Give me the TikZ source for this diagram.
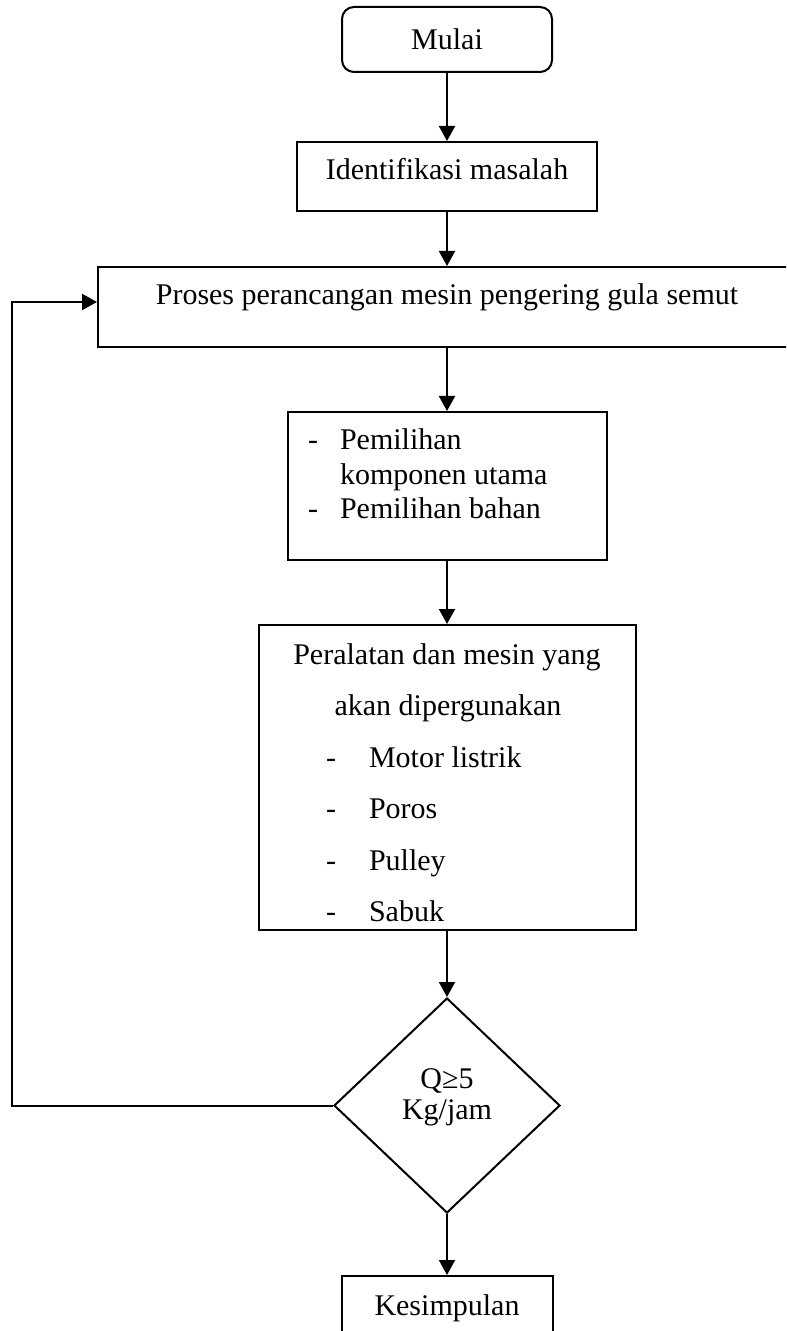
\documentclass[tikz,border=0pt]{standalone}
\usepackage{fontspec}
\setmainfont{Liberation Serif}
\usetikzlibrary{arrows.meta,shapes.geometric}
\begin{document}
\begin{tikzpicture}[x=0.5pt,y=-0.5pt, line width=1pt,
  box/.style={draw, rectangle, inner sep=0pt, font=\fontsize{15}{18}\selectfont, text depth=7.5pt},
  txt/.style={inner sep=0pt, font=\fontsize{15}{18}\selectfont},
  arr/.style={-{Triangle[length=7.5pt,width=8pt]}}]
\useasboundingbox (0,0) rectangle (786,1331);
\clip (0,0) rectangle (786,1331);

\node[box, rounded corners=6pt, minimum width=105pt, minimum height=32.5pt, text height=18pt] (mulai) at (447,39.5) {Mulai};
\node[box, minimum width=150pt, minimum height=34.5pt, text height=11pt] (ident) at (447,176.5) {Identifikasi masalah};
\node[box, minimum width=349pt, minimum height=40pt, text height=5.5pt] (proses) at (447,307) {Proses perancangan mesin pengering gula semut};

\node[box, minimum width=159.5pt, minimum height=74pt] (pil) at (447,486) {};
\node[txt, anchor=base west] (pil1d) at (307,450) {-};
\node[txt, anchor=base west] (pil1) at (339,450) {Pemilihan};
\node[txt, anchor=base west] (pil2) at (339,484) {komponen utama};
\node[txt, anchor=base west] (pil3d) at (307,518) {-};
\node[txt, anchor=base west] (pil3) at (339,518) {Pemilihan bahan};

\node[box, minimum width=188.5pt, minimum height=152.5pt] (alat) at (447,777.5) {};
\node[txt, anchor=base] (alat1) at (447,664) {Peralatan dan mesin yang};
\node[txt, anchor=base] (alat2) at (448,715) {akan dipergunakan};
\node[txt, anchor=base west] (alat3d) at (325,767) {-};
\node[txt, anchor=base west] (alat3) at (368,767) {Motor listrik};
\node[txt, anchor=base west] (alat4d) at (325,818) {-};
\node[txt, anchor=base west] (alat4) at (368,818) {Poros};
\node[txt, anchor=base west] (alat5d) at (325,870) {-};
\node[txt, anchor=base west] (alat5) at (368,870) {Pulley};
\node[txt, anchor=base west] (alat6d) at (325,921) {-};
\node[txt, anchor=base west] (alat6) at (368,921) {Sabuk};

\node[draw, diamond, inner sep=0pt, minimum width=113pt, minimum height=107.5pt] (dec) at (447,1105.5) {};
\node[txt, anchor=base] (dec1) at (447,1088) {Q≥5};
\node[txt, anchor=base] (dec2) at (447,1119) {Kg/jam};

\node[box, minimum width=105.5pt, minimum height=32pt, text height=14.5pt] (kes) at (447,1308) {Kesimpulan};

\coordinate (fb) at (12,0);

\draw[arr] (mulai.south) -- (ident.north);
\draw[arr] (ident.south) -- (proses.north);
\draw[arr] (proses.south) -- (pil.north);
\draw[arr] (pil.south) -- (alat.north);
\draw[arr] (alat.south) -- (dec.north);
\draw[arr] (dec.south) -- (kes.north);
\draw[arr] (dec.west) -- (dec.west -| fb) |- ([yshift=2.5pt]proses.west);
\end{tikzpicture}
\end{document}
